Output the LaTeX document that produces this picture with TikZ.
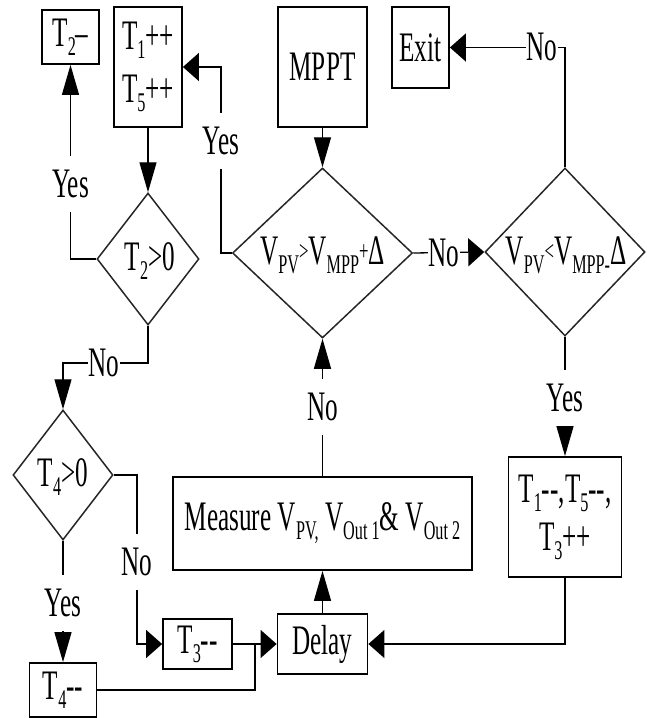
\documentclass[tikz,border=0pt]{standalone}
\usepackage{fontspec}
\setmainfont{Liberation Serif}[FakeStretch=0.6]
\usetikzlibrary{shapes.geometric,arrows.meta}
\newcommand\sbs[1]{\raisebox{-9pt}{\fontsize{27}{27}\selectfont #1}}
\newcommand\smrel[1]{\raisebox{4pt}{\fontsize{28}{28}\selectfont #1}}
\begin{document}
\begin{tikzpicture}[x=1pt,y=-1pt, font=\fontsize{42}{48}\selectfont,
  box/.style={draw, line width=1.8pt, inner sep=0pt, align=center},
  dia/.style={draw=black!85, line width=1.5pt, diamond, inner sep=0pt},
  ln/.style={line width=1.3pt},
  va/.style={ln, -{Triangle[length=30pt,width=17pt]}},
  ha/.style={ln, -{Triangle[length=16pt,width=28pt]}},
  lbl/.style={fill=white, inner xsep=1pt, inner ysep=14pt}]
\useasboundingbox (0,0) rectangle (646,718);

% boxes
\node[box, minimum width=57pt, minimum height=54pt] (t2m) at (70.5,37) {T\sbs{2}–};
\node[box, minimum width=68pt, minimum height=120pt] (t15) at (148,67) {T\sbs{1}++\\[5pt]T\sbs{5}++};
\node[box, minimum width=89pt, minimum height=120pt] (mppt) at (322.5,67) {MPPT};
\node[box, minimum width=57pt, minimum height=81pt] (exit) at (420.5,47.5) {Exit};
\node[box, minimum width=299pt, minimum height=93pt] (meas) at (322.5,523.5) {Measure V\sbs{PV,} V\sbs{Out 1}\& V\sbs{Out 2}};
\node[box, minimum width=113pt, minimum height=120pt] (t135) at (565,517) {T\sbs{1}-{}-,T\sbs{5}-{}-,\\T\sbs{3}++};
\node[box, minimum width=69pt, minimum height=50pt] (t3m) at (197.5,644) {T\sbs{3}-{}-};
\node[box, minimum width=90pt, minimum height=60pt] (delay) at (322.5,644) {Delay};
\node[box, minimum width=67pt, minimum height=54pt] (t4m) at (63,690) {T\sbs{4}-{}-};

% decisions
\node[dia, minimum width=180pt, minimum height=170pt] (d1) at (322.5,253) {};
\node (d1t) at (322.5,255) {V\sbs{PV}\smrel{>}V\sbs{MPP}\smrel{+}Δ};
\node[dia, minimum width=160pt, minimum height=168pt] (d2) at (565,252) {};
\node (d2t) at (566,255) {V\sbs{PV}\smrel{<}V\sbs{MPP-}Δ};
\node[dia, minimum width=102pt, minimum height=132pt] (d3) at (148,259) {};
\node (d3t) at (150,261) {T\sbs{2}>0};
\node[dia, minimum width=100pt, minimum height=130pt] (d4) at (63,475) {};
\node (d4t) at (63,477) {T\sbs{4}>0};

% bend points
\coordinate (c1) at (221,67);
\coordinate (c2) at (63,363);
\coordinate (c3) at (137,644);
\coordinate (c4) at (255,644);

% connectors
\draw[va] (d3.west) -| (t2m.south);
\draw[va] (t15.south) -- (d3.north);
\draw[ha] (d1.west) -| (c1) -- (t15.east);
\draw[va] (mppt.south) -- (d1.north);
\draw[ha] (d1.east) -- (d2.west);
\draw[ha] (d2.north) |- (exit.east);
\draw[va] (d2.south) -- (t135.north);
\draw[ha] (t135.south) |- (delay.east);
\draw[va] (delay.north) -- (meas.south);
\draw[va] (meas.north) -- (d1.south);
\draw[va] (d3.south) |- (c2) -- (d4.north);
\draw[ha] (d4.east) -| (c3) -- (t3m.west);
\draw[va] (d4.south) -- (t4m.north);
\draw[ha] (t3m.east) -- (delay.west);
\draw[ln] (t4m.east) -| (c4);

% labels
\node[lbl] (l1) at (70.5,184) {Yes};
\node[lbl] (l2) at (221,141) {Yes};
\node[lbl] (l3) at (542,47) {No};
\node[lbl] (l4) at (444,253) {No};
\node[lbl] (l5) at (104,363) {No};
\node[lbl] (l6) at (137,562) {No};
\node[lbl] (l7) at (63,603) {Yes};
\node[lbl] (l8) at (322.5,407) {No};
\node[lbl] (l9) at (565,398) {Yes};
\end{tikzpicture}
\end{document}
